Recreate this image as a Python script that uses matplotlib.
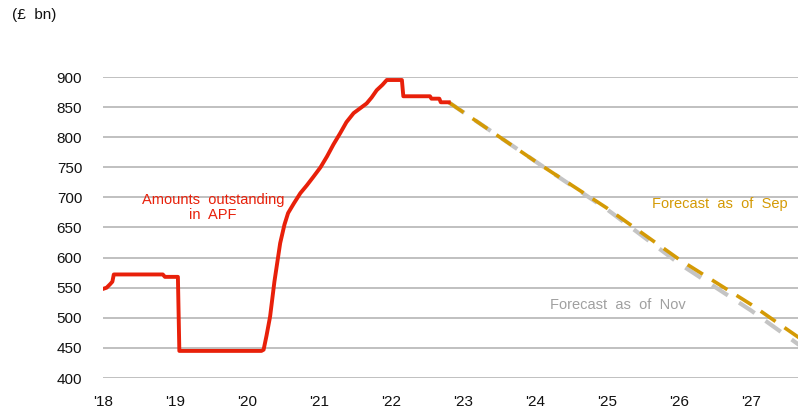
import matplotlib.pyplot as plt

plt.rcParams['font.family'] = ['Liberation Sans', 'DejaVu Sans']

# amounts outstanding in APF (decimal years, £bn)
apf_years = [2018.00, 2018.05, 2018.10, 2018.13, 2018.15, 2018.83, 2018.86, 2019.04, 2019.06,
             2020.20, 2020.23, 2020.27, 2020.32, 2020.38, 2020.46, 2020.52, 2020.57, 2020.65,
             2020.74, 2020.83, 2020.92, 2021.02, 2021.11, 2021.20, 2021.29, 2021.38, 2021.48,
             2021.57, 2021.66, 2021.73, 2021.80, 2021.88, 2021.94, 2022.15, 2022.17, 2022.54,
             2022.56, 2022.67, 2022.69, 2022.80]
apf_values = [548, 550, 556, 560, 572, 572, 568, 568, 445,
              445, 447, 470, 502, 560, 624, 655, 674, 690,
              707, 720, 734, 750, 768, 788, 806, 825, 840,
              848, 856, 866, 878, 887, 895, 895, 868, 868,
              864, 864, 858, 858]

sep_years = [2022.80, 2024.10, 2025.00, 2026.00, 2027.00, 2027.70]
sep_values = [858, 752, 682, 597, 522, 464]

nov_years = [2022.80, 2024.10, 2025.00, 2026.00, 2027.00, 2027.70]
nov_values = [858, 752, 680, 590, 512, 452]

tick_years = list(range(2018, 2028))
tick_labels = ["'18", "'19", "'20", "'21", "'22", "'23", "'24", "'25", "'26", "'27"]
y_ticks = list(range(400, 901, 50))

fig = plt.figure(figsize=(7.98, 4.16), dpi=100)
ax = fig.add_axes([103 / 798, 38 / 416, 1 - 103 / 798, 301 / 416])

for y in y_ticks:
    ax.axhline(y, color='#c0c0c0', lw=1.4, zorder=1)

ax.plot(nov_years, nov_values, color='#c4c4c4', lw=3, dashes=(4.5, 3.2), zorder=2)
ax.plot(sep_years, sep_values, color='#d49a05', lw=2.6, dashes=(5, 3), zorder=3)
ax.plot(apf_years, apf_values, color='#e8200a', lw=2.8, zorder=4)

ax.set_xlim(2018, 2027.65)
ax.set_ylim(400, 900)
ax.set_xticks(tick_years)
ax.set_xticklabels(tick_labels)
ax.set_yticks(y_ticks)
ax.tick_params(length=0, labelsize=11, colors='#111111')
ax.tick_params(axis='y', pad=15)
ax.tick_params(axis='x', pad=12)
for s in ax.spines.values():
    s.set_visible(False)

ax.text(2019.53, 683, 'Amounts  outstanding\nin  APF', color='#e8200a', fontsize=10.5,
        ha='center', va='center', linespacing=1.15)
ax.text(2026.57, 689, 'Forecast  as  of  Sep', color='#d49a05', fontsize=10.5,
        ha='center', va='center')
ax.text(2025.15, 521, 'Forecast  as  of  Nov', color='#a0a0a0', fontsize=10.5,
        ha='center', va='center')
fig.text(12 / 798, 1 - 15 / 416, '(£  bn)', fontsize=11, ha='left', va='center', color='#111111')

fig.savefig('out.png', dpi=100)
